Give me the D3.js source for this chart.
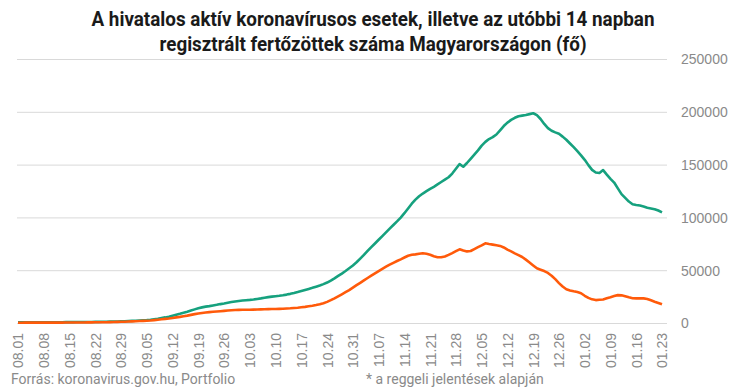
<!DOCTYPE html>
<html>
<head>
<meta charset="utf-8">
<script src="https://cdn.jsdelivr.net/npm/d3@7"></script>
<style>
  body { margin: 0; background: #fff; }
  svg { display: block; font-family: Roboto, "Noto Sans", sans-serif; }
</style>
</head>
<body>
<div id="chart"></div>
<script>
// Daily series from 2020-08-01 to 2021-01-23
const startDate = new Date(2020, 7, 1);

const activeCases = [
  600, 610, 620, 640, 650, 660, 680, 700, 710, 720, 740, 760, 780, 800, 820, 850, 880, 900, 930, 960,
  1000, 1050, 1100, 1150, 1200, 1280, 1350, 1450, 1550, 1650, 1800,
  2000, 2200, 2400, 2600, 2800, 3100, 3600, 4100, 4700, 5300, 6000, 6900, 7800, 8700, 9700, 10700, 11800, 12900, 14000,
  14800, 15500, 16000, 16600, 17200, 17900, 18500, 19200, 19800, 20400, 20900,
  21300, 21600, 21900, 22300, 22800, 23300, 23900, 24500, 25000, 25400, 25800, 26300, 26900, 27600, 28400, 29300,
  30300, 31300, 32300, 33300, 34400, 35500, 36800, 38300, 40200, 42300, 44600, 46800, 49200, 51800, 54500,
  57500, 61000, 64500, 68200, 71800, 75300, 78800, 82300, 85800, 89400, 92800, 96200, 99800, 104000, 108500,
  113000, 116800, 120000, 122600, 124800, 127000, 129000, 131200, 133500, 135800, 138000, 141500, 146000, 150500, 148000,
  151500, 155500, 159500, 163500, 168000, 171500, 174200, 176000, 178500, 182500, 186500, 189800, 192300, 194300, 195800,
  196400, 196900, 197800, 198600, 196800, 193200, 188500, 184500, 182000, 180500, 179200, 176500, 173500, 170000, 166500, 162800,
  158800, 154500, 149500, 145000, 142500, 142000, 144800, 140500, 136500, 133000, 127500, 122000, 118500, 115000, 112500,
  111800, 111200, 110300, 109200, 108500, 107800, 106500, 104800
];

const cases14d = [
  300, 300, 310, 320, 330, 330, 340, 350, 360, 370, 380, 390, 400, 420, 440, 460, 480, 500, 530, 560,
  600, 640, 680, 720, 780, 850, 930, 1020, 1120, 1250, 1400,
  1550, 1700, 1850, 2000, 2150, 2350, 2700, 3100, 3500, 3900, 4300, 4800, 5300, 5800, 6400, 7000, 7700, 8400, 9000,
  9500, 9900, 10300, 10600, 10900, 11200, 11500, 11800, 12100, 12300, 12400,
  12500, 12500, 12600, 12700, 12800, 12900, 13000, 13100, 13200, 13300, 13400, 13500, 13700, 13900, 14200, 14500,
  14900, 15300, 15800, 16300, 17000, 17800, 18800, 20000, 21600, 23400, 25300, 27200, 29200, 31200, 33500,
  35800, 38000, 40300, 42600, 44800, 47000, 49200, 51300, 53300, 55200, 57000, 58700, 60300, 62000, 63700,
  64600, 65000, 65500, 66000, 65500, 64600, 63200, 62300, 62200, 63000, 64500, 66200, 68000, 69800, 68600,
  67800, 68200, 70000, 71800, 73500, 75500, 74800, 74200, 73600, 73000, 71500, 69500, 67800, 66000, 64300,
  62500, 60000, 57300, 54500, 51800, 50500, 49200, 47400, 44800, 41500, 37800, 34500, 32000, 30800, 30000, 29300,
  28200, 25800, 23800, 22400, 21700, 22000, 22300, 23400, 24400, 25500, 26400, 26200, 25300, 24300, 23500,
  23300, 23300, 23300, 22800, 21500, 20200, 19000, 17700
];

const yTicks = [0, 50000, 100000, 150000, 200000, 250000];

const tickLabels = [
  "08.01", "08.08", "08.15", "08.22", "08.29", "09.05", "09.12", "09.19", "09.26",
  "10.03", "10.10", "10.17", "10.24", "10.31", "11.07", "11.14", "11.21", "11.28",
  "12.05", "12.12", "12.19", "12.26", "01.02", "01.09", "01.16", "01.23"
];

const titleLines = [
  "A hivatalos aktív koronavírusos esetek, illetve az utóbbi 14 napban",
  "regisztrált fertőzöttek száma Magyarországon (fő)"
];

const W = 732, H = 389;
const dates = activeCases.map((d, i) => d3.timeDay.offset(startDate, i));

const svg = d3.select("#chart").append("svg")
  .attr("width", W)
  .attr("height", H);

// Scales
const x = d3.scaleTime()
  .domain([dates[0], dates[dates.length - 1]])
  .range([18, 662]);

const y = d3.scaleLinear()
  .domain([0, 250000])
  .range([323, 59]);

// Gridlines + right y labels
const yAxis = d3.axisRight(y)
  .tickValues(yTicks)
  .tickSize(650)
  .tickFormat(d3.format("d"));

svg.append("g")
  .attr("transform", "translate(17,0)")
  .call(yAxis)
  .call(g => g.select(".domain").remove())
  .call(g => g.selectAll("line").attr("stroke", "#d9d9d9").attr("stroke-width", 1))
  .call(g => g.selectAll("text")
    .attr("x", 664)
    .attr("dy", "0.35em")
    .attr("fill", "#8a8a8a")
    .style("font-size", "14px"));

// X axis labels (weekly, rotated)
const tickDates = tickLabels.map((t, i) => d3.timeDay.offset(startDate, i * 7));
const xAxis = d3.axisBottom(x)
  .tickValues(tickDates)
  .tickSize(0)
  .tickFormat((d, i) => tickLabels[i]);

svg.append("g")
  .attr("transform", "translate(0,333)")
  .call(xAxis)
  .call(g => g.select(".domain").remove())
  .call(g => g.selectAll("text")
    .attr("transform", "rotate(-90)")
    .attr("text-anchor", "end")
    .attr("x", 0)
    .attr("y", 0)
    .attr("dy", "0.35em")
    .attr("fill", "#8a8a8a")
    .style("font-size", "14px"));

// Lines
const line = d3.line()
  .x((d, i) => x(dates[i]))
  .y(d => y(d));

svg.append("path")
  .datum(activeCases)
  .attr("fill", "none")
  .attr("stroke", "#16a17e")
  .attr("stroke-width", 2.6)
  .attr("stroke-linejoin", "round")
  .attr("d", line);

svg.append("path")
  .datum(cases14d)
  .attr("fill", "none")
  .attr("stroke", "#ff5a0a")
  .attr("stroke-width", 2.6)
  .attr("stroke-linejoin", "round")
  .attr("d", line);

// Title
const titleWidths = [563, 427];
svg.selectAll(".title")
  .data(titleLines)
  .enter()
  .append("text")
  .attr("class", "title")
  .attr("x", 373)
  .attr("y", (d, i) => 26 + i * 25)
  .attr("text-anchor", "middle")
  .attr("textLength", (d, i) => titleWidths[i])
  .attr("lengthAdjust", "spacingAndGlyphs")
  .attr("fill", "#1a1a1a")
  .style("font-size", "20px")
  .style("font-weight", "bold")
  .text(d => d);

// Footer
svg.append("text")
  .attr("x", 11)
  .attr("y", 384)
  .attr("fill", "#8a8a8a")
  .style("font-size", "14px")
  .text("Forrás: koronavirus.gov.hu, Portfolio");

svg.append("text")
  .attr("x", 366)
  .attr("y", 384)
  .attr("fill", "#8a8a8a")
  .style("font-size", "14px")
  .text("* a reggeli jelentések alapján");
</script>
</body>
</html>
